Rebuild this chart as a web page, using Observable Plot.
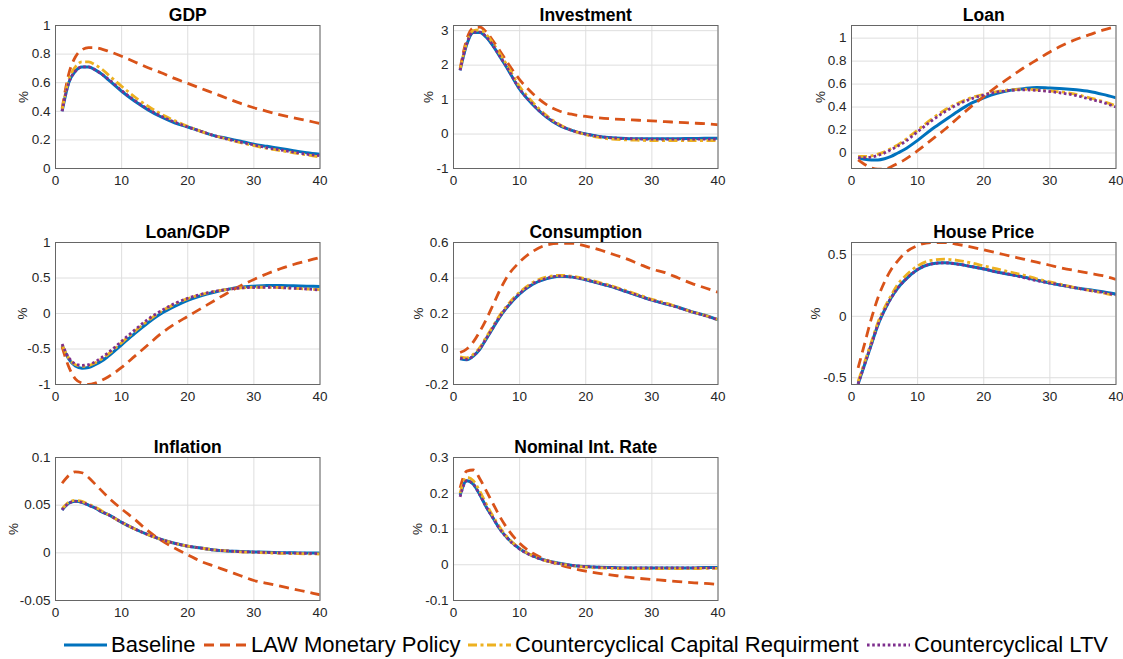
<!DOCTYPE html>
<html>
<head>
<meta charset="utf-8">
<script src="https://cdn.jsdelivr.net/npm/d3@7"></script>
<script src="https://cdn.jsdelivr.net/npm/@observablehq/plot@0.6"></script>
<style>
  html, body { margin: 0; padding: 0; background: #fff; }
  #root { position: relative; width: 1123px; height: 659px; overflow: hidden; font-family: "Liberation Sans", Arial, sans-serif; }
  .panel { position: absolute; }
  .legend-item { position: absolute; top: 630px; height: 30px; display: flex; align-items: center; font-size: 22px; color: #000; white-space: nowrap; }
  .legend-item svg { margin-right: 3px; }
</style>
</head>
<body>
<div id="root"></div>
<script>
// ---- Data (horizon in quarters) ----
const t = [1,2,3,4,5,6,7,8,10,12,14,16,18,20,22,24,26,28,30,32,34,36,38,40];

const seriesNames = ["Baseline", "LAW Monetary Policy", "Countercyclical Capital Requirment", "Countercyclical LTV"];

// GDP
const gdpBaseline = [0.40,0.60,0.68,0.71,0.71,0.69,0.66,0.62,0.54,0.47,0.41,0.36,0.32,0.29,0.26,0.23,0.21,0.19,0.17,0.155,0.14,0.125,0.11,0.10];
const gdpLaw      = [0.42,0.66,0.78,0.83,0.845,0.845,0.835,0.82,0.785,0.745,0.705,0.67,0.63,0.595,0.56,0.525,0.49,0.455,0.425,0.40,0.375,0.355,0.335,0.315];
const gdpCcr      = [0.41,0.62,0.71,0.745,0.745,0.725,0.695,0.655,0.575,0.50,0.435,0.38,0.335,0.295,0.26,0.23,0.205,0.18,0.16,0.14,0.125,0.11,0.095,0.08];
const gdpLtv      = [0.40,0.60,0.68,0.71,0.71,0.69,0.66,0.625,0.545,0.475,0.415,0.365,0.325,0.29,0.26,0.23,0.205,0.185,0.165,0.145,0.13,0.115,0.10,0.09];

// Investment
const invBaseline = [1.85,2.6,2.95,2.95,2.8,2.55,2.25,1.95,1.3,0.85,0.5,0.25,0.1,0.0,-0.07,-0.11,-0.13,-0.14,-0.14,-0.14,-0.135,-0.13,-0.125,-0.12];
const invLaw      = [1.9,2.75,3.08,3.1,2.95,2.7,2.42,2.12,1.58,1.17,0.86,0.67,0.57,0.51,0.47,0.44,0.42,0.40,0.38,0.36,0.34,0.32,0.30,0.27];
const invCcr      = [1.87,2.65,3.0,3.02,2.88,2.63,2.33,2.03,1.38,0.92,0.55,0.28,0.1,-0.02,-0.1,-0.15,-0.17,-0.18,-0.19,-0.19,-0.19,-0.19,-0.19,-0.19];
const invLtv      = [1.85,2.62,2.96,2.96,2.81,2.56,2.26,1.96,1.31,0.86,0.51,0.26,0.1,0.0,-0.07,-0.11,-0.13,-0.14,-0.15,-0.15,-0.15,-0.15,-0.15,-0.15];

// Loan
const loanBaseline = [-0.04,-0.055,-0.06,-0.06,-0.05,-0.03,0.0,0.03,0.11,0.2,0.28,0.36,0.43,0.48,0.52,0.545,0.56,0.57,0.565,0.56,0.55,0.535,0.51,0.48];
const loanLaw      = [-0.06,-0.1,-0.13,-0.14,-0.14,-0.12,-0.09,-0.06,0.02,0.11,0.2,0.3,0.4,0.49,0.58,0.66,0.74,0.81,0.88,0.94,0.99,1.03,1.07,1.1];
const loanCcr      = [-0.03,-0.03,-0.025,-0.01,0.01,0.04,0.07,0.11,0.2,0.29,0.37,0.43,0.48,0.51,0.535,0.55,0.555,0.55,0.54,0.53,0.51,0.48,0.45,0.41];
const loanLtv      = [-0.04,-0.04,-0.035,-0.02,0.0,0.03,0.06,0.095,0.185,0.275,0.355,0.42,0.47,0.505,0.53,0.545,0.55,0.545,0.535,0.52,0.5,0.47,0.44,0.40];

// Loan/GDP
const lgBaseline = [-0.45,-0.64,-0.74,-0.77,-0.76,-0.72,-0.67,-0.6,-0.44,-0.28,-0.13,0.0,0.1,0.185,0.25,0.3,0.34,0.37,0.385,0.395,0.395,0.39,0.385,0.38];
const lgLaw      = [-0.47,-0.75,-0.92,-0.98,-1.0,-0.98,-0.94,-0.89,-0.76,-0.6,-0.44,-0.28,-0.15,-0.04,0.07,0.18,0.29,0.39,0.48,0.56,0.63,0.69,0.74,0.79];
const lgCcr      = [-0.44,-0.63,-0.72,-0.745,-0.735,-0.695,-0.64,-0.57,-0.41,-0.25,-0.1,0.03,0.13,0.21,0.265,0.31,0.34,0.36,0.37,0.37,0.365,0.355,0.345,0.335];
const lgLtv      = [-0.43,-0.62,-0.71,-0.73,-0.72,-0.68,-0.62,-0.55,-0.39,-0.23,-0.08,0.04,0.14,0.215,0.27,0.31,0.34,0.36,0.365,0.37,0.365,0.355,0.345,0.33];

// Consumption
const conBaseline = [-0.055,-0.06,-0.04,0.0,0.06,0.12,0.18,0.23,0.31,0.365,0.395,0.41,0.405,0.39,0.37,0.35,0.325,0.3,0.275,0.255,0.235,0.21,0.19,0.165];
const conLaw      = [-0.02,0.0,0.04,0.1,0.17,0.25,0.33,0.4,0.49,0.55,0.585,0.595,0.595,0.58,0.56,0.535,0.51,0.48,0.45,0.43,0.40,0.37,0.345,0.32];
const conCcr      = [-0.045,-0.05,-0.03,0.01,0.07,0.13,0.19,0.24,0.32,0.375,0.405,0.415,0.41,0.395,0.375,0.355,0.33,0.305,0.28,0.26,0.235,0.21,0.19,0.165];
const conLtv      = [-0.052,-0.058,-0.038,0.002,0.062,0.122,0.182,0.232,0.312,0.367,0.397,0.41,0.405,0.39,0.37,0.35,0.325,0.3,0.275,0.255,0.233,0.21,0.188,0.165];

// House Price
const hpBaseline = [-0.55,-0.39,-0.23,-0.07,0.05,0.15,0.23,0.29,0.38,0.425,0.435,0.425,0.405,0.385,0.36,0.34,0.32,0.295,0.27,0.25,0.23,0.215,0.2,0.18];
const hpLaw      = [-0.42,-0.22,-0.02,0.15,0.28,0.38,0.45,0.51,0.575,0.6,0.6,0.585,0.565,0.54,0.515,0.49,0.465,0.44,0.415,0.39,0.37,0.35,0.33,0.30];
const hpCcr      = [-0.53,-0.37,-0.21,-0.05,0.07,0.17,0.26,0.32,0.41,0.455,0.465,0.455,0.435,0.41,0.385,0.36,0.335,0.305,0.28,0.255,0.23,0.21,0.19,0.165];
const hpLtv      = [-0.55,-0.39,-0.23,-0.07,0.05,0.15,0.23,0.29,0.38,0.425,0.435,0.425,0.405,0.385,0.36,0.34,0.315,0.29,0.27,0.25,0.23,0.21,0.195,0.175];

// Inflation
const infBaseline = [0.045,0.052,0.054,0.053,0.05,0.047,0.043,0.04,0.032,0.025,0.019,0.014,0.01,0.007,0.005,0.003,0.002,0.0015,0.001,0.0005,0.0002,0.0,-0.0002,-0.0003];
const infLaw      = [0.073,0.081,0.085,0.084,0.079,0.072,0.065,0.058,0.046,0.035,0.023,0.013,0.005,-0.002,-0.009,-0.014,-0.019,-0.024,-0.029,-0.032,-0.035,-0.038,-0.041,-0.044];
const infCcr      = [0.046,0.053,0.055,0.054,0.051,0.048,0.044,0.04,0.032,0.025,0.019,0.014,0.01,0.007,0.005,0.003,0.002,0.001,0.0005,0.0,-0.0005,-0.0008,-0.001,-0.0012];
const infLtv      = [0.045,0.052,0.054,0.053,0.05,0.047,0.043,0.04,0.032,0.025,0.019,0.014,0.01,0.007,0.005,0.003,0.002,0.0012,0.0008,0.0004,0.0,-0.0003,-0.0005,-0.0008];

// Nominal Int. Rate
const nirBaseline = [0.195,0.235,0.225,0.195,0.16,0.13,0.1,0.078,0.045,0.025,0.012,0.004,-0.002,-0.005,-0.007,-0.008,-0.009,-0.009,-0.009,-0.009,-0.009,-0.009,-0.008,-0.008];
const nirLaw      = [0.215,0.262,0.265,0.24,0.205,0.17,0.135,0.105,0.06,0.032,0.014,0.0,-0.01,-0.018,-0.024,-0.029,-0.034,-0.038,-0.041,-0.044,-0.047,-0.05,-0.052,-0.055];
const nirCcr      = [0.2,0.245,0.235,0.205,0.168,0.135,0.105,0.08,0.046,0.025,0.011,0.003,-0.003,-0.007,-0.009,-0.01,-0.011,-0.011,-0.011,-0.011,-0.011,-0.011,-0.01,-0.01];
const nirLtv      = [0.19,0.235,0.225,0.195,0.16,0.13,0.1,0.077,0.044,0.024,0.011,0.003,-0.002,-0.005,-0.007,-0.008,-0.009,-0.009,-0.009,-0.009,-0.009,-0.009,-0.009,-0.009];

// Panel tick labels / limits
const xTicks = [0,10,20,30,40];
const panels = [
  {title: "GDP", series: [gdpBaseline, gdpLaw, gdpCcr, gdpLtv], domain: [0, 1], ticks: [0,0.2,0.4,0.6,0.8,1], col: 0, row: 0, labelOffset: 37},
  {title: "Investment", series: [invBaseline, invLaw, invCcr, invLtv], domain: [-1, 3.15], ticks: [-1,0,1,2,3], col: 1, row: 0, labelOffset: 30},
  {title: "Loan", series: [loanBaseline, loanLaw, loanCcr, loanLtv], domain: [-0.135, 1.11], ticks: [0,0.2,0.4,0.6,0.8,1], col: 2, row: 0, labelOffset: 36},
  {title: "Loan/GDP", series: [lgBaseline, lgLaw, lgCcr, lgLtv], domain: [-1, 1], ticks: [-1,-0.5,0,0.5,1], col: 0, row: 1, labelOffset: 38},
  {title: "Consumption", series: [conBaseline, conLaw, conCcr, conLtv], domain: [-0.2, 0.6], ticks: [-0.2,0,0.2,0.4,0.6], col: 1, row: 1, labelOffset: 40},
  {title: "House Price", series: [hpBaseline, hpLaw, hpCcr, hpLtv], domain: [-0.555, 0.6], ticks: [-0.5,0,0.5], col: 2, row: 1, labelOffset: 41},
  {title: "Inflation", series: [infBaseline, infLaw, infCcr, infLtv], domain: [-0.05, 0.1], ticks: [-0.05,0,0.05,0.1], col: 0, row: 2, labelOffset: 47},
  {title: "Nominal Int. Rate", series: [nirBaseline, nirLaw, nirCcr, nirLtv], domain: [-0.1, 0.3], ticks: [-0.1,0,0.1,0.2,0.3], col: 1, row: 2, labelOffset: 41}
];

// ---- Styling ----
const colors = ["#0072BD", "#D95319", "#EDB120", "#7E2F8E"];
const dashes = [null, "10,6", "9,3.5,3,3.5", "2.6,2.6"];
const colLeft = [55, 453, 851];
const rowTop = [25, 241.5, 457];
const rowH = [143, 142, 143];
const plotW = 264.5;
const mL = 55, mR = 10, mT = 25, mB = 25;

const fmt = d => String(Math.round(d * 1000) / 1000);
const root = document.getElementById("root");

panels.forEach(p => {
  const h = rowH[p.row];
  const data = [];
  p.series.forEach((vals, si) => {
    vals.forEach((v, i) => data.push({t: t[i], v, s: si}));
  });
  const lineMarks = [0,1,2,3].map(si => Plot.line(data.filter(d => d.s === si), {
    x: "t", y: "v", stroke: colors[si], strokeWidth: si === 0 ? 3 : 2.8,
    strokeDasharray: dashes[si] || undefined, curve: "monotone-x", clip: true,
    strokeLinecap: "butt", strokeLinejoin: "round"
  }));
  const chart = Plot.plot({
    width: mL + plotW + mR,
    height: mT + h + mB,
    marginLeft: mL, marginRight: mR, marginTop: mT, marginBottom: mB,
    style: {fontFamily: "'Liberation Sans', Arial, sans-serif", fontSize: "13.5px", color: "#262626", background: "transparent", overflow: "visible"},
    x: {domain: [0, 40]},
    y: {domain: p.domain},
    marks: [
      Plot.gridX(xTicks, {stroke: "#dedede", strokeOpacity: 1}),
      Plot.gridY(p.ticks, {stroke: "#dedede", strokeOpacity: 1}),
      ...lineMarks,
      Plot.frame({stroke: "#666666", strokeWidth: 1}),
      Plot.axisX(xTicks, {tickSize: 0, tickPadding: 7, tickFormat: fmt, label: null, fontSize: 13.5}),
      Plot.axisY(p.ticks, {tickSize: 0, tickPadding: 5, tickFormat: fmt, label: "%", labelAnchor: "center", labelArrow: "none", labelOffset: p.labelOffset, fontSize: 13.5}),
      Plot.text([p.title], {frameAnchor: "top", text: d => d, dy: -5, lineAnchor: "bottom", fontWeight: "bold", fontSize: 17.5, fill: "#000"})
    ]
  });
  chart.classList.add("panel");
  chart.style.left = (colLeft[p.col] - mL) + "px";
  chart.style.top = (rowTop[p.row] - mT) + "px";
  root.appendChild(chart);
});

// ---- Legend ----
const legendLeft = [63, 203, 467, 866];
seriesNames.forEach((name, i) => {
  const item = document.createElement("div");
  item.className = "legend-item";
  item.style.left = legendLeft[i] + "px";
  const sw = d3.create("svg").attr("width", 45).attr("height", 20);
  sw.append("line").attr("x1", 1).attr("x2", 44).attr("y1", 10).attr("y2", 10)
    .attr("stroke", colors[i]).attr("stroke-width", 3)
    .attr("stroke-dasharray", dashes[i] || null);
  item.appendChild(sw.node());
  const span = document.createElement("span");
  span.textContent = name;
  item.appendChild(span);
  root.appendChild(item);
});
</script>
</body>
</html>
